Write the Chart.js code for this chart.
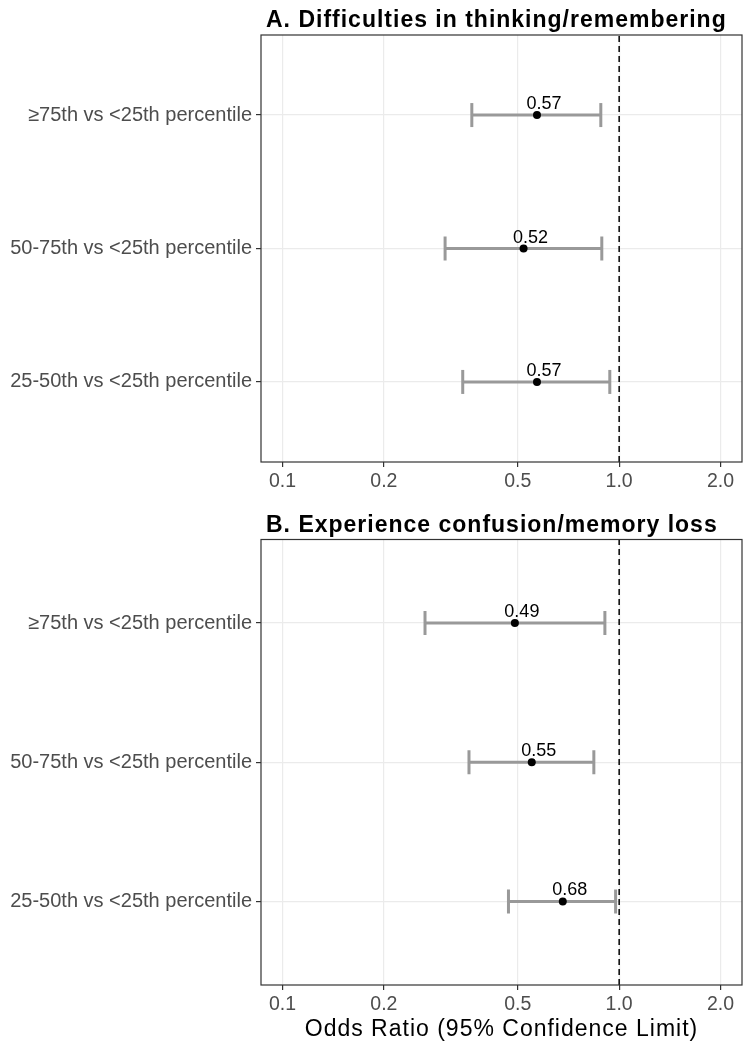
<!DOCTYPE html>
<html>
<head>
<meta charset="utf-8">
<script src="https://cdn.jsdelivr.net/npm/chart.js@4.4.1/dist/chart.umd.min.js"></script>
<style>
  html, body { margin: 0; padding: 0; background: #ffffff; }
  #wrap { position: relative; width: 750px; height: 1050px; background: #fff; }
  canvas { position: absolute; left: 0; }
</style>
</head>
<body>
<div id="wrap">
  <canvas id="chartA" width="750" height="500" style="top:0px"></canvas>
  <canvas id="chartB" width="750" height="550" style="top:500px"></canvas>
</div>
<script>
// ---- Data (categories listed bottom to top) ----
const categories = ['25-50th vs <25th percentile', '50-75th vs <25th percentile', '\u226575th vs <25th percentile'];
const titleA = 'A. Difficulties in thinking/remembering';
const titleB = 'B. Experience confusion/memory loss';
const orA = [0.57, 0.52, 0.57];
const loA = [0.343, 0.304, 0.365];
const hiA = [0.938, 0.888, 0.882];
const orB = [0.68, 0.55, 0.49];
const loB = [0.469, 0.358, 0.265];
const hiB = [0.976, 0.841, 0.907];
const xTicks = [0.1, 0.2, 0.5, 1.0, 2.0];
const refValue = 1.0;
const xTitle = 'Odds Ratio (95% Confidence Limit)';

const FONT = '"Liberation Sans", Arial, sans-serif';

const panelPlugin = {
  id: 'panel',
  afterDatasetsDraw(chart, args, opts) {
    const { ctx, chartArea: a, scales: { x, y } } = chart;
    ctx.save();
    // value labels
    ctx.font = '18px ' + FONT;
    ctx.fillStyle = '#000';
    ctx.textAlign = 'center';
    ctx.textBaseline = 'alphabetic';
    opts.or.forEach((v, i) => {
      ctx.fillText(v.toFixed(2), x.getPixelForValue(v) + 7, y.getPixelForValue(i + 1) - 6);
    });
    // panel frame
    ctx.strokeStyle = '#333333';
    ctx.lineWidth = 1.2;
    ctx.strokeRect(a.left, a.top, a.right - a.left, a.bottom - a.top);
    // panel title
    ctx.font = 'bold 23px ' + FONT;
    ctx.letterSpacing = '1px';
    ctx.textAlign = 'left';
    ctx.fillStyle = '#000';
    ctx.fillText(opts.title, a.left + 5, a.top - 8);
    // x axis title
    if (opts.xTitle) {
      ctx.font = '23px ' + FONT;
      ctx.letterSpacing = '1px';
      ctx.textAlign = 'center';
      ctx.fillText(opts.xTitle, (a.left + a.right) / 2, chart.height - 14);
    }
    ctx.restore();
  }
};

function makeChart(id, title, or, lo, hi, topPad, xHeight, showXTitle) {
  const datasets = [];
  datasets.push({
    type: 'line',
    data: [{ x: refValue, y: 0.4 }, { x: refValue, y: 3.6 }],
    borderColor: '#000',
    borderWidth: 1.5,
    borderDash: [6, 4],
    pointRadius: 0,
    order: 3
  });
  categories.forEach((c, i) => {
    datasets.push({
      type: 'line',
      data: [{ x: lo[i], y: i + 1 }, { x: hi[i], y: i + 1 }],
      borderColor: '#999999',
      borderWidth: 3,
      borderCapStyle: 'butt',
      pointStyle: 'line',
      rotation: 90,
      pointRadius: 12,
      pointBorderWidth: 3,
      pointBorderColor: '#999999',
      pointBackgroundColor: '#999999',
      order: 2
    });
  });
  datasets.push({
    type: 'scatter',
    data: or.map((v, i) => ({ x: v, y: i + 1 })),
    pointRadius: 4,
    pointBackgroundColor: '#000',
    pointBorderColor: '#000',
    pointBorderWidth: 0,
    order: 1
  });

  return new Chart(document.getElementById(id), {
    type: 'scatter',
    data: { datasets },
    plugins: [panelPlugin],
    options: {
      responsive: false,
      animation: false,
      devicePixelRatio: 1,
      layout: { autoPadding: false, padding: { left: 0, right: 8, top: topPad, bottom: 0 } },
      plugins: {
        legend: { display: false },
        tooltip: { enabled: false },
        title: { display: false },
        panel: { title: title, or: or, xTitle: showXTitle ? xTitle : null }
      },
      scales: {
        x: {
          type: 'logarithmic',
          min: 0.0863,
          max: 2.317,
          afterBuildTicks: (s) => { s.ticks = xTicks.map(v => ({ value: v })); },
          afterFit: (s) => { s.height = xHeight; s.paddingLeft = 0; s.paddingRight = 0; },
          ticks: {
            autoSkip: false,
            maxRotation: 0,
            padding: 3,
            color: '#4d4d4d',
            font: { family: FONT, size: 19.5 },
            callback: (v) => Number(v).toFixed(1)
          },
          grid: { color: '#ebebeb', lineWidth: 1.2, tickColor: '#333333', tickLength: 5, drawTicks: true },
          border: { display: false },
          title: { display: false }
        },
        y: {
          type: 'linear',
          min: 0.4,
          max: 3.6,
          afterBuildTicks: (s) => { s.ticks = [1, 2, 3].map(v => ({ value: v })); },
          afterFit: (s) => { s.width = 261; s.paddingTop = 0; s.paddingBottom = 0; },
          ticks: {
            autoSkip: false,
            padding: 4,
            color: '#4d4d4d',
            font: { family: FONT, size: 20 },
            callback: (v) => categories[Math.round(v) - 1]
          },
          grid: { color: '#ebebeb', lineWidth: 1.2, tickColor: '#333333', tickLength: 5, drawTicks: true },
          border: { display: false }
        }
      }
    }
  });
}

makeChart('chartA', titleA, orA, loA, hiA, 35, 38, false);
makeChart('chartB', titleB, orB, loB, hiB, 39.5, 65, true);
</script>
</body>
</html>
